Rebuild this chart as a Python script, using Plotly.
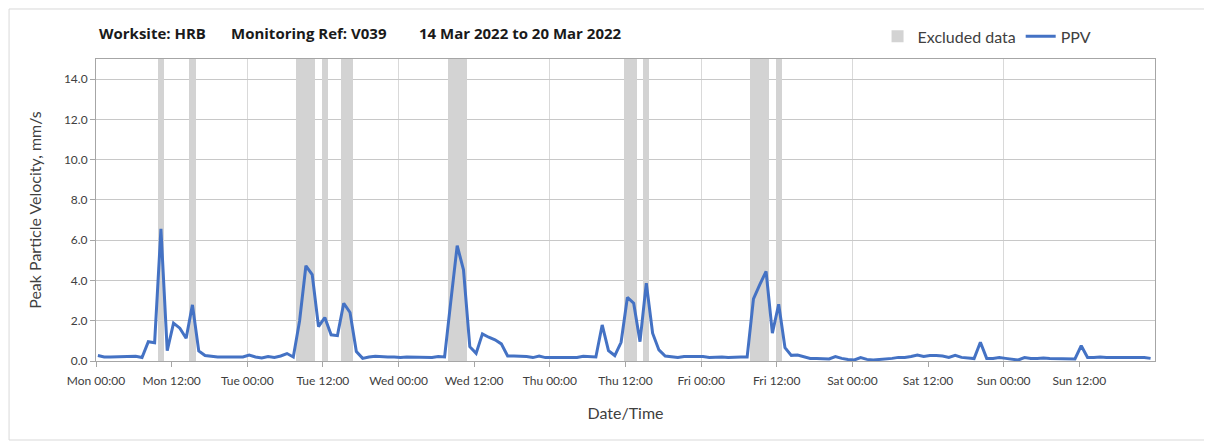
import plotly.graph_objects as go
import pandas as pd

# ---------------- data ----------------
START = "2022-03-14 00:18"          # first hourly reading
AXIS_START = "2022-03-14 00:00"
AXIS_END = "2022-03-21 00:00"

ppv = [
    0.27, 0.20, 0.20, 0.20, 0.20, 0.20, 0.23, 0.17, 0.96, 0.91,
    6.56, 0.51, 1.88, 1.63, 1.13, 2.79, 0.50, 0.27, 0.22, 0.20,
    0.20, 0.20, 0.20, 0.20, 0.30, 0.20, 0.15, 0.22, 0.18, 0.25,
    0.37, 0.20, 2.00, 4.73, 4.29, 1.71, 2.16, 1.30, 1.26, 2.87,
    2.41, 0.47, 0.13, 0.20, 0.23, 0.20, 0.20, 0.20, 0.17, 0.20,
    0.20, 0.17, 0.17, 0.17, 0.22, 0.20, 3.00, 5.73, 4.53, 0.71,
    0.38, 1.35, 1.18, 1.05, 0.85, 0.25, 0.25, 0.25, 0.22, 0.17,
    0.25, 0.17, 0.17, 0.17, 0.17, 0.17, 0.17, 0.23, 0.20, 0.20,
    1.79, 0.51, 0.27, 0.93, 3.16, 2.87, 0.96, 3.87, 1.38, 0.55,
    0.25, 0.20, 0.17, 0.22, 0.22, 0.22, 0.22, 0.17, 0.20, 0.20,
    0.17, 0.20, 0.20, 0.20, 3.09, 3.79, 4.45, 1.38, 2.82, 0.66,
    0.28, 0.30, 0.22, 0.13, 0.13, 0.13, 0.10, 0.22, 0.13, 0.08,
    0.05, 0.17, 0.08, 0.05, 0.07, 0.10, 0.13, 0.18, 0.18, 0.22,
    0.30, 0.22, 0.27, 0.27, 0.25, 0.18, 0.28, 0.18, 0.15, 0.12,
    0.93, 0.13, 0.13, 0.17, 0.13, 0.10, 0.05, 0.17, 0.12, 0.13,
    0.15, 0.12, 0.12, 0.13, 0.13, 0.10, 0.76, 0.18, 0.18, 0.20,
    0.18, 0.18, 0.18, 0.18, 0.18, 0.17, 0.17, 0.13,
]

# indices of hourly readings flagged as excluded
excluded_idx = [10, 15, 32, 33, 34, 36, 39, 40, 56, 57, 58,
                84, 85, 87, 104, 105, 106, 108]

Y_MAX = 15
y_ticks = [0, 2, 4, 6, 8, 10, 12, 14]

x_tick_labels = ["Mon 00:00", "Mon 12:00", "Tue 00:00", "Tue 12:00", "Wed 00:00",
                 "Wed 12:00", "Thu 00:00", "Thu 12:00", "Fri 00:00", "Fri 12:00",
                 "Sat 00:00", "Sat 12:00", "Sun 00:00", "Sun 12:00"]

times = pd.date_range(START, periods=len(ppv), freq="h")
excluded_times = [times[i] for i in excluded_idx]
excluded_vals = [Y_MAX] * len(excluded_idx)
x_tick_vals = pd.date_range(AXIS_START, periods=len(x_tick_labels), freq="12h")

title_parts = ["Worksite: HRB", "Monitoring Ref: V039", "14 Mar 2022 to 20 Mar 2022"]

# ---------------- figure ----------------
FONT = "Lato"
TXT = "#404040"
HOUR_MS = 3600 * 1000

fig = go.Figure()

fig.add_trace(go.Bar(
    x=excluded_times, y=excluded_vals, width=HOUR_MS,
    name="Excluded data", marker=dict(color="#d3d3d3", line=dict(width=0)),
    xaxis="x", yaxis="y", hoverinfo="skip",
))

fig.add_trace(go.Scatter(
    x=times, y=ppv, mode="lines", name="PPV",
    line=dict(color="#4472C4", width=3),
    xaxis="x2", yaxis="y",
))

# the page body adds an 8px offset, so the figure is 8px smaller than the window
fig.update_layout(
    width=1204, height=437,
    margin=dict(l=88, r=57, t=51, b=84, autoexpand=False),
    paper_bgcolor="white", plot_bgcolor="white",
    font=dict(family=FONT, color=TXT, size=12),
    showlegend=True,
    legend=dict(orientation="h", x=0.738, xanchor="left", y=1.075, yanchor="middle",
                font=dict(size=16, color=TXT), bgcolor="rgba(0,0,0,0)",
                itemwidth=30, traceorder="normal"),
    xaxis=dict(
        type="date", range=[AXIS_START, AXIS_END],
        tick0=AXIS_START, dtick=24 * HOUR_MS,
        showgrid=True, gridcolor="#d9d9d9", gridwidth=1,
        showticklabels=False, ticks="",
        showline=True, linecolor="#a6a6a6", linewidth=1, mirror=True,
        zeroline=False, automargin=False,
    ),
    xaxis2=dict(
        type="date", range=[AXIS_START, AXIS_END], overlaying="x", anchor="y", side="bottom",
        tickvals=x_tick_vals, ticktext=x_tick_labels,
        ticks="outside", ticklen=5, tickcolor="#a6a6a6",
        tickfont=dict(size=12, color=TXT), ticklabelstandoff=4,
        showgrid=False, showline=False, zeroline=False, automargin=False,
        title=dict(text="Date/Time", font=dict(size=16, color=TXT), standoff=20),
    ),
    yaxis=dict(
        range=[0, Y_MAX], tickvals=y_ticks, tickformat=".1f",
        showgrid=True, gridcolor="#c8c8c8", gridwidth=1,
        ticks="outside", ticklen=5, tickcolor="#a6a6a6",
        tickfont=dict(size=12, color=TXT),
        showline=True, linecolor="#a6a6a6", linewidth=1, mirror=True,
        zeroline=False, automargin=False,
        title=dict(text="Peak Particle Velocity, mm/s", font=dict(size=16, color=TXT), standoff=18),
    ),
    bargap=0,
)

# title pieces
title_x = [0.001, 0.1256, 0.3031]
for txt, xx in zip(title_parts, title_x):
    fig.add_annotation(text=f"<b>{txt}</b>", xref="paper", yref="paper",
                       x=xx, y=1.086, xanchor="left", yanchor="middle",
                       showarrow=False, font=dict(size=15, color="#1a1a1a", family="Open Sans"))

# outer chart border
fig.add_shape(type="rect", xref="paper", yref="paper",
              x0=-0.0821, x1=1.0491, y0=-0.2616, y1=1.1656,
              line=dict(color="#d9d9d9", width=1), fillcolor="rgba(0,0,0,0)", layer="below")

fig.write_html("out.html")
